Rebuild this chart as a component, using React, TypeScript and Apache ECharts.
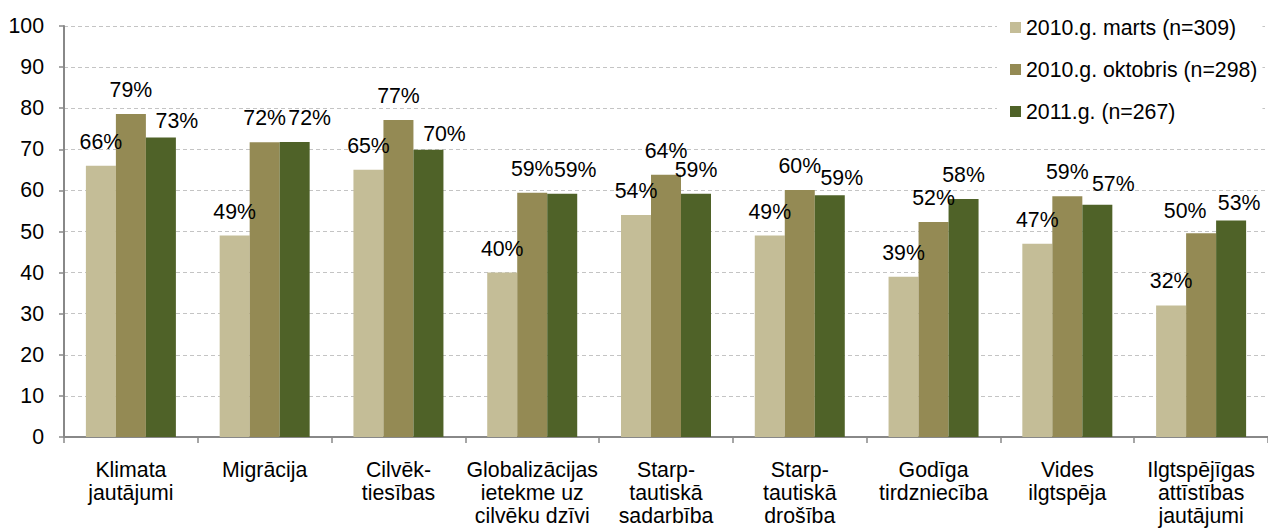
import React, { useEffect, useRef } from "react";
import * as echarts from "echarts";

const categories = [
  "Klimata\njautājumi",
  "Migrācija",
  "Cilvēk-\ntiesības",
  "Globalizācijas\nietekme uz\ncilvēku dzīvi",
  "Starp-\ntautiskā\nsadarbība",
  "Starp-\ntautiskā\ndrošība",
  "Godīga\ntirdzniecība",
  "Vides\nilgtspēja",
  "Ilgtspējīgas\nattīstības\njautājumi",
];

const seriesNames = ["2010.g. marts (n=309)", "2010.g. oktobris (n=298)", "2011.g. (n=267)"];

const marts2010 = [66, 49, 65, 40, 54, 49, 39, 47, 32];
const oktobris2010 = [78.6, 71.7, 77.1, 59.4, 63.8, 60.1, 52.3, 58.6, 49.6];
const year2011 = [72.9, 71.8, 69.9, 59.2, 59.2, 58.8, 57.9, 56.5, 52.7];

const yTicks = { min: 0, max: 100, interval: 10 };

// label nudges (style only): [dx, dy] per series per category, to avoid overlaps like the original
const labelNudges: number[][][] = [
  [],
  [[0, 0], [0, 0], [0, 0], [0, 0], [0, 0], [0, 0], [0, 0], [0, 0], [-16, 2]],
  [[16, 8], [15, 0], [16, 8], [13, 0], [0, 0], [12, 7], [0, 0], [16, 3], [8, 7]],
];

const colors = ["#C4BD97", "#948A54", "#4F6228"];
const FONT = "'Liberation Sans', Arial, sans-serif";
const FS = 21.3;

export default function App() {
  const ref = useRef<HTMLDivElement>(null);

  useEffect(() => {
    if (!ref.current) return;
    const chart = echarts.init(ref.current, null, { renderer: "svg" });
    const dataSets = [marts2010, oktobris2010, year2011];
    chart.setOption({
      animation: false,
      backgroundColor: "#ffffff",
      textStyle: { fontFamily: FONT, color: "#000" },
      grid: { left: 64, right: -9, top: 26, bottom: 95, containLabel: false },
      legend: {
        orient: "vertical",
        left: 997,
        top: 10,
        padding: [7, 5, 7, 13],
        backgroundColor: "#ffffff",
        itemWidth: 11,
        itemHeight: 11,
        itemGap: 21,
        icon: "rect",
        textStyle: { fontFamily: FONT, fontSize: FS, color: "#000", lineHeight: 20 },
        data: seriesNames,
      },
      xAxis: {
        type: "category",
        data: categories,
        axisLine: { lineStyle: { color: "#888888", width: 2 } },
        axisTick: { show: true, length: 6, lineStyle: { color: "#888888", width: 1.5 } },
        axisLabel: {
          interval: 0,
          margin: 21,
          fontFamily: FONT,
          fontSize: FS,
          lineHeight: 23,
          color: "#000",
          align: "center",
        },
      },
      yAxis: {
        type: "value",
        min: yTicks.min,
        max: yTicks.max,
        interval: yTicks.interval,
        axisLine: { show: true, lineStyle: { color: "#888888", width: 2 } },
        axisTick: { show: true, length: 5, lineStyle: { color: "#888888", width: 1.5 } },
        axisLabel: { margin: 20, fontFamily: FONT, fontSize: FS, color: "#000" },
        splitLine: { show: true, lineStyle: { color: "#c4c4c4", width: 1, type: [4, 3] } },
      },
      series: dataSets.map((d, i) => ({
        name: seriesNames[i],
        type: "bar",
        data: d,
        barWidth: 30,
        barGap: "0%",
        itemStyle: { color: colors[i] },
        label: {
          show: true,
          position: "top",
          distance: 14,
          fontFamily: FONT,
          fontSize: FS,
          lineHeight: 20,
          color: "#000",
          formatter: (p: any) => Math.round(p.value) + "%",
        },
        labelLayout: (p: any) => {
          const n = labelNudges[i][p.dataIndex];
          return n ? { dx: n[0], dy: n[1] } : {};
        },
      })),
    });
    return () => chart.dispose();
  }, []);

  return (
    <div
      ref={ref}
      style={{ position: "absolute", left: 0, top: 0, width: 1268, height: 532, background: "#fff" }}
    />
  );
}
